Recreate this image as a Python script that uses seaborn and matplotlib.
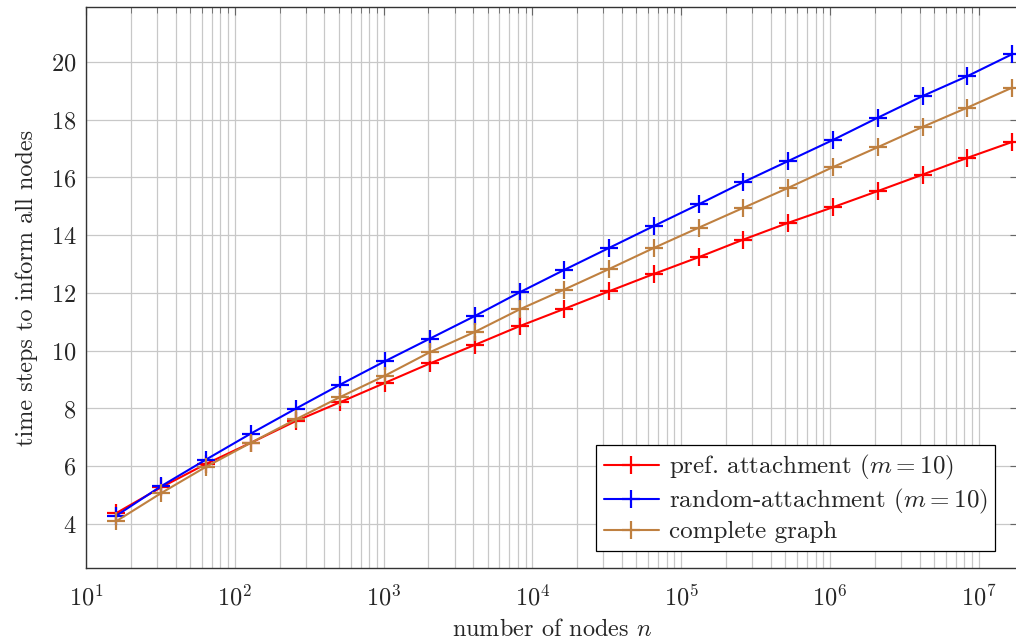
import numpy as np
import pandas as pd
import matplotlib
matplotlib.use("Agg")
import matplotlib.pyplot as plt
import seaborn as sns
from matplotlib.ticker import LogLocator, NullFormatter, FixedLocator

# number of nodes: 2^4 ... 2^24
nodes = [2 ** k for k in range(4, 25)]

pref_attach = [4.38, 5.27, 6.08, 6.81, 7.56, 8.22, 8.89, 9.56, 10.2, 10.85, 11.45,
               12.06, 12.66, 13.24, 13.85, 14.43, 14.97, 15.53, 16.1, 16.68, 17.23]
random_attach = [4.29, 5.31, 6.23, 7.13, 7.99, 8.83, 9.64, 10.42, 11.2, 12.02, 12.8,
                 13.56, 14.32, 15.07, 15.84, 16.57, 17.3, 18.07, 18.82, 19.51, 20.27]
complete_graph = [4.1, 5.07, 5.98, 6.81, 7.62, 8.4, 9.14, 9.95, 10.65, 11.43, 12.12,
                  12.83, 13.56, 14.26, 14.95, 15.64, 16.36, 17.05, 17.75, 18.42, 19.11]

labels = ["pref. attachment ($m = 10$)", "random-attachment ($m = 10$)", "complete graph"]
colors = ["#ff0000", "#0000ff", "#bf8040"]
x_ticks = [1e1, 1e2, 1e3, 1e4, 1e5, 1e6, 1e7]
y_ticks = [4, 6, 8, 10, 12, 14, 16, 18, 20]

sns.set_style("white")
plt.rcParams['font.family'] = ['cmr10', 'DejaVu Serif']
plt.rcParams['mathtext.fontset'] = 'cm'
plt.rcParams['axes.formatter.use_mathtext'] = True

fs = 17.5

fig = plt.figure(figsize=(10.16, 6.44), dpi=100)
ax = fig.add_axes([0.08465, 0.118, 0.9173, 0.871])

series = [pref_attach, random_attach, complete_graph]
for vals, lab, col in zip(series, labels, colors):
    df = pd.DataFrame({"n": nodes, "t": vals})
    sns.lineplot(data=df, x="n", y="t", ax=ax, color=col, lw=1.5, marker="+",
                 markersize=13, mew=1.6, mec=col, mfc=col, label=lab, zorder=3)

ax.set_xscale("log")
ax.set_xlim(10, 1.834e7)
ax.set_ylim(2.476, 21.9)
ax.yaxis.set_major_locator(FixedLocator(y_ticks))
ax.xaxis.set_major_locator(FixedLocator(x_ticks))
ax.xaxis.set_minor_locator(LogLocator(base=10, subs=np.arange(2, 10), numticks=12))
ax.xaxis.set_minor_formatter(NullFormatter())

ax.grid(True, which="major", color="#c8c8c8", lw=0.9, zorder=0)
ax.grid(True, which="minor", axis="x", color="#c8c8c8", lw=0.9, zorder=0)

ax.tick_params(which="both", direction="in", top=True, right=True, labelsize=fs,
               color="#666666")
ax.tick_params(which="major", length=6, width=0.8, pad=7)
ax.tick_params(which="minor", length=4, width=0.6)
ax.tick_params(axis="x", which="major", pad=12)
for s in ax.spines.values():
    s.set_color("#333333")
    s.set_linewidth(1.0)

ax.set_xlabel("number of nodes $n$", fontsize=fs, labelpad=6)
ax.set_ylabel("time steps to inform all nodes", fontsize=fs, labelpad=9)

leg = ax.legend(loc="lower right", bbox_to_anchor=(0.9755, 0.0305), fontsize=18,
                frameon=True, fancybox=False, edgecolor="black", framealpha=1,
                handlelength=2.2, borderpad=0.3, labelspacing=0.2, handletextpad=0.4,
                borderaxespad=0)
leg.get_frame().set_linewidth(0.9)

fig.savefig("out.png", dpi=100)
